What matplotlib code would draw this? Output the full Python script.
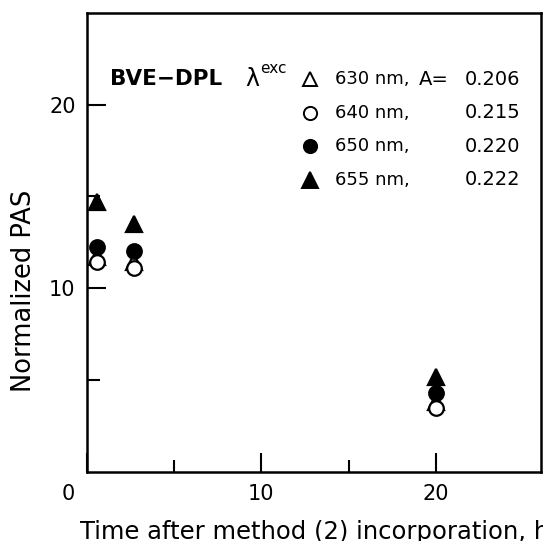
import matplotlib.pyplot as plt
from matplotlib.ticker import FixedLocator
import matplotlib.transforms as mtransforms

# data
times = [0.6, 2.7, 20]
wavelengths = ['630 nm,', '640 nm,', '650 nm,', '655 nm,']
absorbances = ['0.206', '0.215', '0.220', '0.222']
pas_630 = [11.7, 11.45, 3.8]
pas_640 = [11.45, 11.1, 3.45]
pas_650 = [12.27, 12.0, 4.27]
pas_655 = [14.7, 13.5, 5.18]

series = [pas_630, pas_640, pas_650, pas_655]
markers = ['^', 'o', 'o', '^']
fills = ['white', 'white', 'black', 'black']
sizes = [11, 10.5, 10.5, 12]

fig = plt.figure(figsize=(5.43, 5.41), dpi=100)
ax = fig.add_axes([86.7 / 543, 1 - 471.6 / 541, (541 - 86.7) / 543, (471.6 - 13) / 541])

for vals, m, fc, ms in zip(series, markers, fills, sizes):
    ax.plot(times, vals, linestyle='none', marker=m, markersize=ms,
            markerfacecolor=fc, markeredgecolor='black', markeredgewidth=1.6)

ax.set_xlim(0, 26)
ax.set_ylim(0, 25)

for sp in ax.spines.values():
    sp.set_linewidth(1.8)

ax.set_xticks([0, 10, 20])
ax.set_xticklabels(['0', '10', '20'])
ax.xaxis.set_minor_locator(FixedLocator([5, 15]))
ax.set_yticks([10, 20])
ax.set_yticklabels(['10', '20'])
ax.yaxis.set_minor_locator(FixedLocator([5, 15]))
ax.tick_params(which='major', direction='in', length=14, width=1.5, labelsize=15)
ax.tick_params(which='minor', direction='in', length=9, width=1.5)
ax.tick_params(axis='x', pad=9)
ax.tick_params(axis='y', pad=8)

# shift the "0" label to the left like in the original
offset = mtransforms.ScaledTranslation(-18 / 100, 0, fig.dpi_scale_trans)
lbl0 = ax.get_xticklabels()[0]
lbl0.set_transform(lbl0.get_transform() + offset)

fig.text(24 / 543, 1 - 291 / 541, 'Normalized PAS', fontsize=18.5,
         rotation=90, ha='center', va='center')
fig.text(80 / 543, 1 - 532 / 541, 'Time after method (2) incorporation, h',
         fontsize=17.5, ha='left', va='center')

# legend block
rows = [0.856, 0.783, 0.709, 0.636]
ax.text(0.051, rows[0], 'BVE\u2212DPL', transform=ax.transAxes, fontsize=15.5,
        fontweight='bold', va='center', ha='left')
ax.text(0.349, rows[0], '\u03bb', transform=ax.transAxes, fontsize=17,
        va='center', ha='left')
ax.text(0.381, rows[0] + 0.022, 'exc', transform=ax.transAxes, fontsize=11,
        va='center', ha='left')
for i, (wl, a) in enumerate(zip(wavelengths, absorbances)):
    ax.plot(0.492, rows[i], transform=ax.transAxes, linestyle='none',
            marker=markers[i], markersize=sizes[i] - 1, markerfacecolor=fills[i],
            markeredgecolor='black', markeredgewidth=1.4, clip_on=False)
    ax.text(0.547, rows[i], wl, transform=ax.transAxes, fontsize=13,
            va='center', ha='left')
    ax.text(0.954, rows[i], a, transform=ax.transAxes, fontsize=14,
            va='center', ha='right')
ax.text(0.797, rows[0], 'A=', transform=ax.transAxes, fontsize=14,
        va='center', ha='right')

fig.savefig('out.png', dpi=100)
